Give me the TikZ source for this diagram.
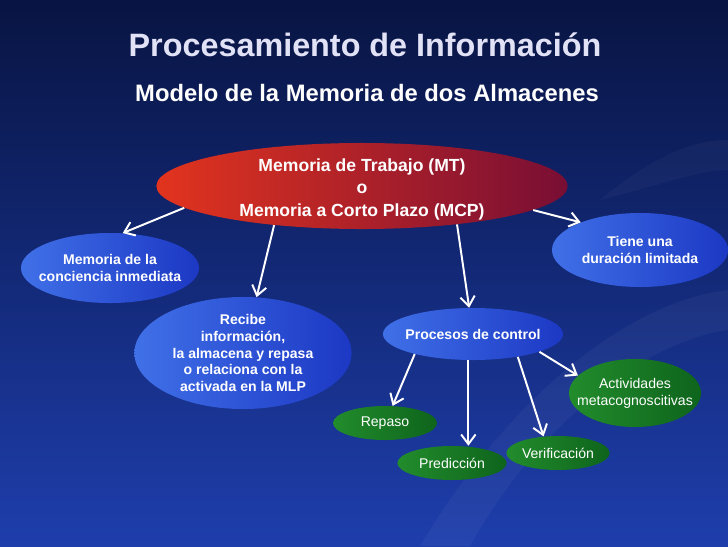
\documentclass[tikz,border=0pt]{standalone}
\usepackage{fontspec}
\setmainfont{Liberation Sans}
\usetikzlibrary{shapes.geometric,arrows.meta}

\definecolor{bgtop}{RGB}{8,20,66}
\definecolor{bgbot}{RGB}{30,62,172}
\definecolor{titcol}{RGB}{226,226,246}
\definecolor{mtl}{RGB}{226,52,30}
\definecolor{mtr}{RGB}{120,14,52}
\definecolor{azl}{RGB}{64,112,232}
\definecolor{azr}{RGB}{28,56,196}
\definecolor{vdl}{RGB}{34,140,44}
\definecolor{vdr}{RGB}{14,100,28}

\tikzset{
  memell/.style={ellipse, inner sep=0pt},
  rojo/.style={memell, left color=mtl, right color=mtr},
  azul/.style={memell, left color=azl, right color=azr},
  verde/.style={memell, left color=vdl, right color=vdr},
  memtxt/.style={text=white, align=center, font=\bfseries\fontsize{10}{12}\selectfont},
  vtxt/.style={text=white, align=center, font=\fontsize{10}{12}\selectfont},
  arr/.style={draw=white, line width=1.4pt, -{Straight Barb[length=2.4mm,width=3.6mm]}},
}

\begin{document}
\begin{tikzpicture}[x=0.025cm, y=-0.025cm]
\shade[top color=bgtop, bottom color=bgbot] (0,0) rectangle (728,546);
\useasboundingbox (0,0) rectangle (728,546);
% swooshes
\fill[white, opacity=0.04] (420,546) .. controls (520,380) and (640,300) .. (728,290)
  -- (728,330) .. controls (650,340) and (540,420) .. (470,546) -- cycle;
\fill[white, opacity=0.03] (600,200) .. controls (660,150) and (700,140) .. (728,140)
  -- (728,170) .. controls (700,170) and (660,185) .. (600,200) -- cycle;

\node[text=titcol, font=\bfseries\fontsize{23}{27}\selectfont] (titulo) at (365,45) {Procesamiento de Información};
\node[text=white, font=\bfseries\fontsize{16.9}{20}\selectfont] (subtit) at (367,93) {Modelo de la Memoria de dos Almacenes};

\node[rojo, minimum width=10.28cm, minimum height=2.15cm] (mt) at (362,186) {};
\node[memtxt, font=\bfseries\fontsize{12.5}{16}\selectfont] (mt-t) at (362,189) {Memoria de Trabajo (MT)\\o\\Memoria a Corto Plazo (MCP)};

\node[azul, minimum width=4.45cm, minimum height=1.75cm] (cons) at (110,268) {};
\node[memtxt] (cons-t) at (cons) {Memoria de la\\conciencia inmediata};

\node[azul, minimum width=5.43cm, minimum height=2.8cm] (rec) at (243,353) {};
\node[memtxt] (rec-t) at (rec) {Recibe\\información,\\la almacena y repasa\\o relaciona con la\\activada en la MLP};

\node[azul, minimum width=4.4cm, minimum height=1.85cm] (tiene) at (640,250) {};
\node[memtxt] (tiene-t) at (tiene) {Tiene una\\duración limitada};

\node[azul, minimum width=4.5cm, minimum height=1.3cm] (proc) at (473,334) {};
\node[memtxt] (proc-t) at (proc) {Procesos de control};

\node[verde, minimum width=3.3cm, minimum height=1.7cm] (act) at (635,393) {};
\node[vtxt] (act-t) at (act) {Actividades\\metacognoscitivas};

\node[verde, minimum width=2.6cm, minimum height=0.85cm] (rep) at (385,423) {};
\node[vtxt] (rep-t) at (rep) {Repaso};

\node[verde, minimum width=2.73cm, minimum height=0.85cm] (pred) at (452,463) {};
\node[vtxt] (pred-t) at (pred) {Predicción};

\node[verde, minimum width=2.58cm, minimum height=0.85cm] (verif) at (558,453) {};
\node[vtxt] (verif-t) at (verif) {Verificación};

\draw[arr] (mt.187) -- (cons.70);
\draw[arr] (mt.204) -- (rec);
\draw[arr] (mt.338) -- (proc);
\draw[arr] (mt.352) -- (tiene.155);

\draw[arr] (proc.199) -- (rep.66);
\draw[arr] (proc.260) -- (proc.260 |- pred.north);
\draw[arr] (proc.333) -- (verif.131);
\draw[arr] (proc.345) -- (act.163);
\end{tikzpicture}
\end{document}
